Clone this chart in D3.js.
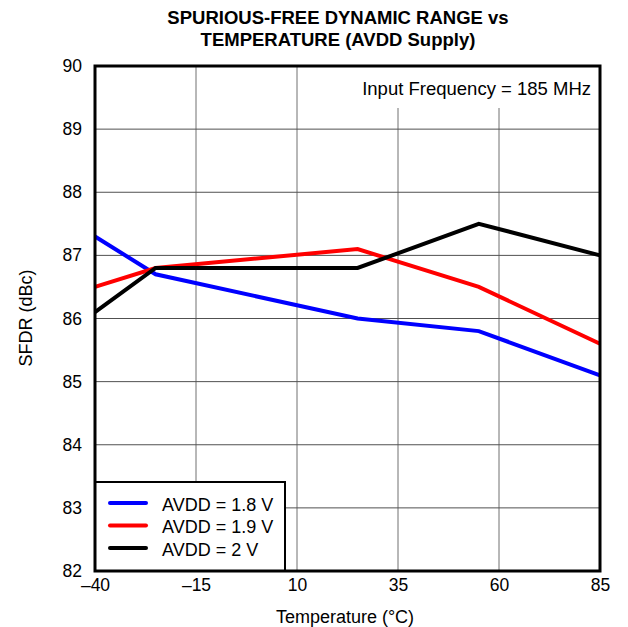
<!DOCTYPE html>
<html><head><meta charset="utf-8">
<script src="https://cdn.jsdelivr.net/npm/d3@7"></script>
<style>body{margin:0;background:#fff}svg text{font-family:"Liberation Sans",Arial,sans-serif}</style>
</head><body><svg id="c" width="628" height="627"></svg>
<script>
const temps = [-40, -25, 25, 55, 85];
const avdd18 = [87.3, 86.7, 86.0, 85.8, 85.1];
const avdd19 = [86.5, 86.8, 87.1, 86.5, 85.6];
const avdd20 = [86.1, 86.8, 86.8, 87.5, 87.0];
const seriesNames = ["AVDD = 1.8 V", "AVDD = 1.9 V", "AVDD = 2 V"];
const seriesColors = ["#0000ff", "#ff0000", "#000000"];
const xTicks = [-40, -15, 10, 35, 60, 85];
const yTicks = [82, 83, 84, 85, 86, 87, 88, 89, 90];

const svg = d3.select("#c");
const L = 95, R = 600, T = 66, B = 571;
const x = d3.scaleLinear().domain([-40, 85]).range([L, R]);
const y = d3.scaleLinear().domain([82, 90]).range([B, T]);

// title
svg.append("text").attr("x", 338).attr("y", 24).attr("text-anchor", "middle")
  .attr("font-weight", "bold").attr("font-size", 18.5).text("SPURIOUS-FREE DYNAMIC RANGE vs");
svg.append("text").attr("x", 338).attr("y", 45.5).attr("text-anchor", "middle")
  .attr("font-weight", "bold").attr("font-size", 18.5).text("TEMPERATURE (AVDD Supply)");

// grid
const g = svg.append("g");
g.selectAll(".vx").data(xTicks).join("line")
  .attr("x1", d => x(d)).attr("x2", d => x(d)).attr("y1", T).attr("y2", B)
  .attr("stroke", "#707070").attr("stroke-width", 1);
g.selectAll(".hy").data(yTicks).join("line")
  .attr("x1", L).attr("x2", R).attr("y1", d => y(d)).attr("y2", d => y(d))
  .attr("stroke", "#505050").attr("stroke-width", 1);

// annotation box
svg.append("rect").attr("x", 356).attr("y", T).attr("width", R - 356).attr("height", 42).attr("fill", "#fff");
svg.append("text").attr("x", 591).attr("y", 95).attr("text-anchor", "end")
  .attr("font-size", 18.5).text("Input Frequency = 185 MHz");

// axes labels via d3 axes
const xAxis = d3.axisBottom(x).tickValues(xTicks).tickSize(0).tickPadding(8)
  .tickFormat(d => d < 0 ? "\u2013" + Math.abs(d) : String(d));
const xa = svg.append("g").attr("transform", `translate(0,${B})`).call(xAxis);
xa.select(".domain").remove();
xa.selectAll("text").attr("font-size", 17.5).attr("fill", "#000").attr("font-family", "Liberation Sans, Arial, sans-serif");

const yAxis = d3.axisLeft(y).tickValues(yTicks).tickSize(0).tickPadding(13).tickFormat(d3.format("d"));
const ya = svg.append("g").attr("transform", `translate(${L},0)`).call(yAxis);
ya.select(".domain").remove();
ya.selectAll("text").attr("font-size", 17.5).attr("fill", "#000").attr("font-family", "Liberation Sans, Arial, sans-serif");

svg.append("text").attr("x", 345).attr("y", 623).attr("text-anchor", "middle")
  .attr("font-size", 18).text("Temperature (\u00b0C)");
svg.append("text").attr("transform", "translate(32,318) rotate(-90)").attr("text-anchor", "middle")
  .attr("font-size", 18).text("SFDR (dBc)");

// lines
const series = [avdd18, avdd19, avdd20];
const line = d3.line().x((d, i) => x(temps[i])).y(d => y(d));
series.forEach((s, k) => {
  svg.append("path").datum(s).attr("d", line).attr("fill", "none")
    .attr("stroke", seriesColors[k]).attr("stroke-width", 4).attr("stroke-linejoin", "miter");
});

// legend
const lg = svg.append("g");
lg.append("rect").attr("x", L).attr("y", 482).attr("width", 190).attr("height", B - 482)
  .attr("fill", "#fff").attr("stroke", "#000").attr("stroke-width", 2);
seriesNames.forEach((n, k) => {
  const yy = 503 + k * 22.5;
  lg.append("line").attr("x1", 110).attr("x2", 146).attr("y1", yy).attr("y2", yy)
    .attr("stroke", seriesColors[k]).attr("stroke-width", 4).attr("stroke-linecap", "round");
  lg.append("text").attr("x", 162).attr("y", yy + 7.5).attr("font-size", 18).text(n);
});

// frame
svg.append("rect").attr("x", L).attr("y", T).attr("width", R - L).attr("height", B - T)
  .attr("fill", "none").attr("stroke", "#000").attr("stroke-width", 3);
</script></body></html>
